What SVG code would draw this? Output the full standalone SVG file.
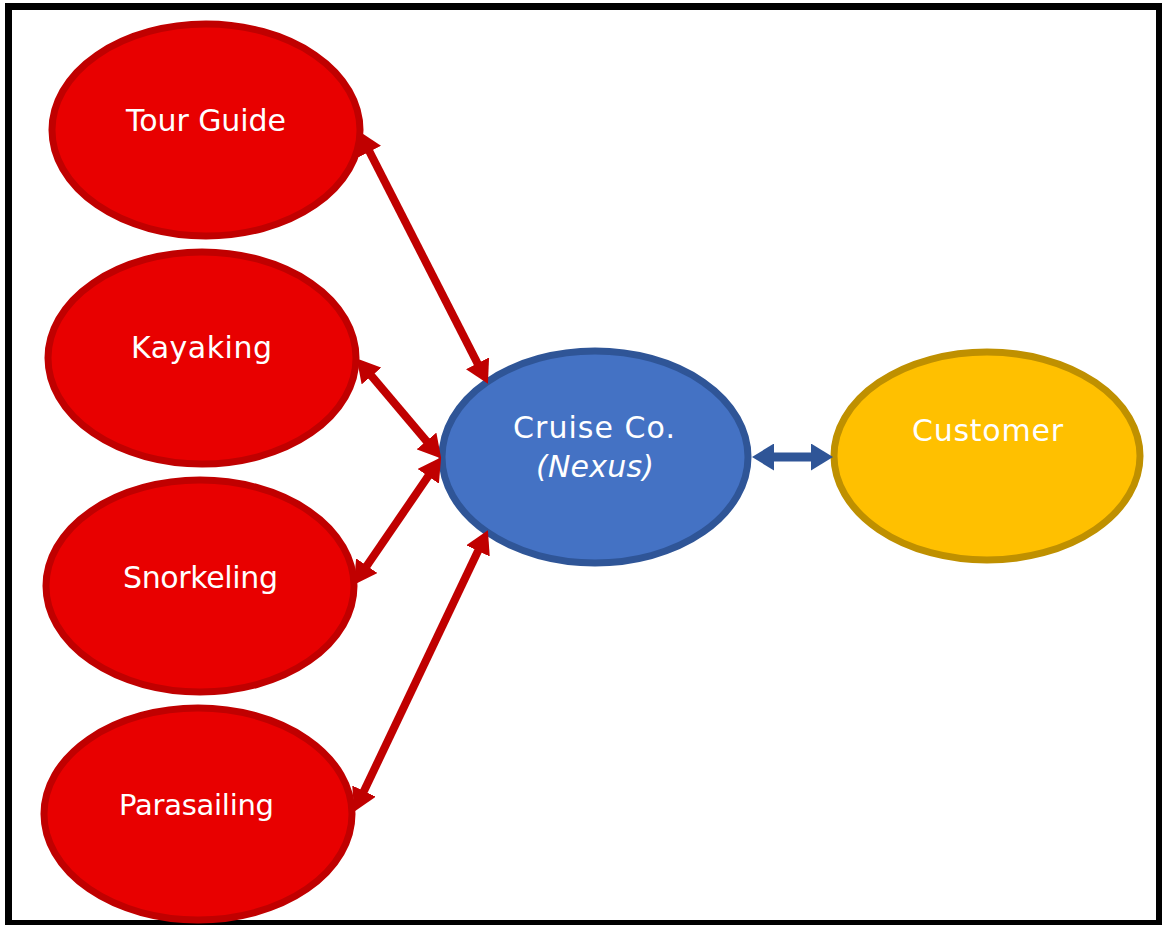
<svg xmlns="http://www.w3.org/2000/svg" width="1162" height="925" viewBox="0 0 1162 925">
  <style>
    .activity { fill: #E80000; stroke: #C00000; stroke-width: 7; }
    .hub { fill: #4472C4; stroke: #2F5597; stroke-width: 7; }
    .client { fill: #FFC000; stroke: #BF9000; stroke-width: 7; }
    .label { fill: #FFFFFF; font-family: "DejaVu Sans", Verdana, sans-serif; font-size: 30px; text-anchor: middle; }
    .link-red { stroke: #C00000; stroke-width: 8; fill: none; marker-start: url(#headRed); marker-end: url(#headRed); }
    .link-blue { stroke: #2F5597; stroke-width: 9; fill: none; marker-start: url(#headBlue); marker-end: url(#headBlue); }
  </style>
  <defs>
    <marker id="headRed" markerUnits="userSpaceOnUse" markerWidth="23" markerHeight="26" refX="13" refY="13" orient="auto-start-reverse" viewBox="0 0 23 26">
      <path d="M0,0 L23,13 L0,26 z" fill="#C00000"/>
    </marker>
    <marker id="headBlue" markerUnits="userSpaceOnUse" markerWidth="22" markerHeight="27" refX="13" refY="13.5" orient="auto-start-reverse" viewBox="0 0 22 27">
      <path d="M0,0 L22,13.5 L0,27 z" fill="#2F5597"/>
    </marker>
  </defs>

  <rect x="0" y="0" width="1162" height="925" fill="#FFFFFF"/>
  <rect x="8.5" y="6.5" width="1151" height="917" fill="none" stroke="#000000" stroke-width="7"/>

  <g id="tour-guide">
    <ellipse class="activity" cx="206" cy="130" rx="154" ry="106"/>
    <text class="label" x="206" y="131" textLength="160" lengthAdjust="spacing">Tour Guide</text>
  </g>
  <g id="kayaking">
    <ellipse class="activity" cx="202" cy="358" rx="154" ry="106"/>
    <text class="label" x="201.5" y="358" textLength="141" lengthAdjust="spacing">Kayaking</text>
  </g>
  <g id="snorkeling">
    <ellipse class="activity" cx="200" cy="586" rx="154" ry="106"/>
    <text class="label" x="200.5" y="588" textLength="155" lengthAdjust="spacing">Snorkeling</text>
  </g>
  <g id="parasailing">
    <ellipse class="activity" cx="198" cy="814" rx="154" ry="106"/>
    <text class="label" x="196.5" y="815" textLength="155" lengthAdjust="spacing" style="font-size:29px">Parasailing</text>
  </g>
  <g id="cruise-co">
    <ellipse class="hub" cx="595" cy="457" rx="153" ry="106"/>
    <text class="label" x="594" y="438" textLength="162" lengthAdjust="spacing">Cruise Co.</text>
    <text class="label" x="595" y="477" font-style="italic" textLength="118" lengthAdjust="spacing">(Nexus)</text>
  </g>
  <g id="customer">
    <ellipse class="client" cx="987" cy="456" rx="153" ry="104"/>
    <text class="label" x="987.5" y="441" textLength="151" lengthAdjust="spacing">Customer</text>
  </g>

  <g id="connectors">
    <line class="link-red" x1="363.6" y1="140.1" x2="483.4" y2="374.9"/>
    <line class="link-red" x1="363.2" y1="366.1" x2="434.8" y2="450.9"/>
    <line class="link-red" x1="435.5" y1="465.6" x2="359.5" y2="576.4"/>
    <line class="link-red" x1="483.6" y1="539.2" x2="358.4" y2="802.8"/>
    <line class="link-blue" x1="761" y1="457" x2="824" y2="457"/>
  </g>
</svg>
